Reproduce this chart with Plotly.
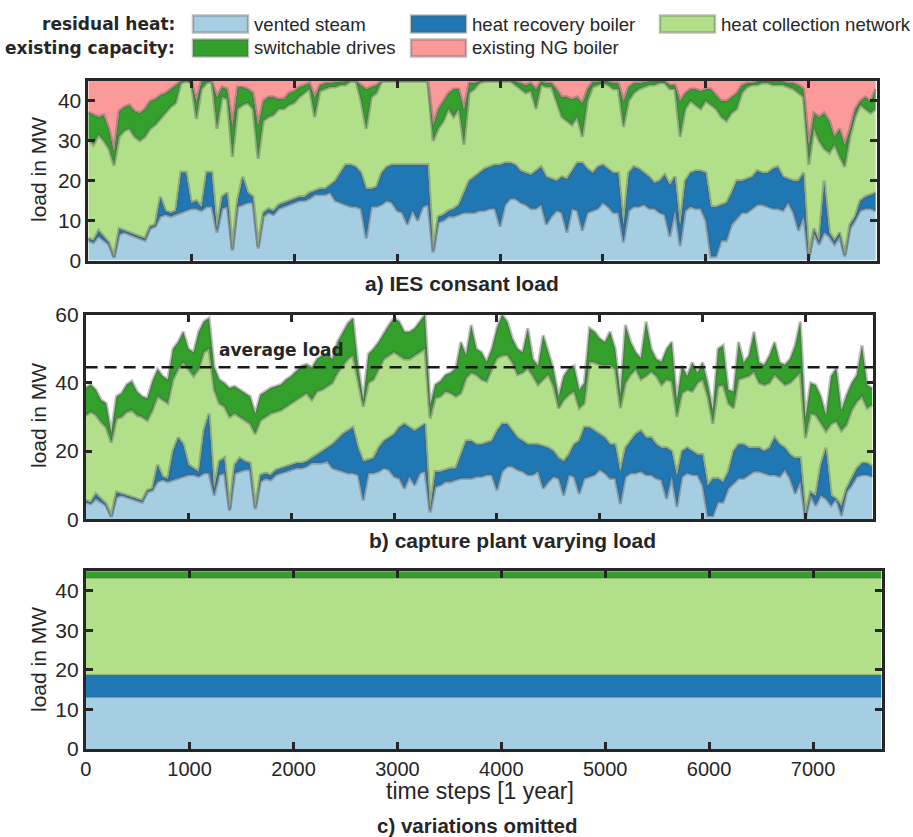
import plotly.graph_objects as go

W, H = 913, 837


def px(x):
    return x / W


def py(y):
    return 1 - y / H


# ---------------- data ----------------
time_step = list(range(0, 7651, 50))
x_end = 7660

# shared: vented steam (top of light-blue layer), MW
vented_steam = [
    5.0, 4.5, 6.0, 5.0, 4.0, 0.7, 6.5, 7.0, 6.5, 6.0,
    5.5, 5.0, 8.0, 8.5, 11.0, 11.5, 11.0, 11.5, 12.0, 12.5,
    13.0, 13.0, 12.5, 13.5, 13.5, 7.0, 13.0, 13.5, 2.5, 13.5,
    14.0, 14.5, 14.5, 3.0, 11.0, 12.0, 11.5, 13.0, 13.5, 14.0,
    14.5, 15.0, 15.0, 15.5, 16.5, 16.5, 16.5, 17.0, 15.0, 14.5,
    14.0, 13.5, 13.5, 13.0, 5.5, 13.5, 13.5, 14.0, 15.0, 14.5,
    12.5, 12.0, 9.0, 12.5, 10.0, 13.5, 14.0, 2.0, 9.5, 10.0,
    11.0, 11.0, 11.5, 12.0, 12.0, 12.0, 12.5, 12.5, 13.0, 13.0,
    8.5, 14.0, 15.5, 15.5, 14.5, 14.0, 13.0, 13.0, 14.0, 9.0,
    11.0, 12.5, 12.0, 7.0, 13.0, 12.5, 7.5, 12.0, 12.5, 13.0,
    14.5, 13.5, 12.0, 12.0, 4.5, 12.5, 13.5, 13.5, 14.0, 13.0,
    13.0, 12.0, 11.5, 6.0, 12.5, 3.6, 12.5, 13.5, 13.0, 13.0,
    10.0, 1.0, 1.0, 5.0, 5.0, 9.0, 10.5, 12.0, 12.0, 13.0,
    14.0, 14.0, 13.5, 13.0, 13.0, 12.5, 14.5, 12.0, 7.5, 11.0,
    0.5, 7.0, 4.0, 7.0, 6.0, 4.0, 6.0, 1.0, 8.0, 10.0,
    12.5, 13.0, 13.0, 12.5]

# panel a) IES constant load: cumulative tops of each layer (MW)
a_top_hrb = [
    5.6, 5.0, 7.5, 6.0, 4.5, 1.0, 8.0, 7.5, 7.0, 6.5,
    6.0, 5.5, 8.5, 9.0, 16.0, 12.5, 12.0, 12.5, 22.1, 22.1,
    14.5, 15.0, 13.5, 22.1, 22.1, 8.0, 16.0, 17.0, 3.0, 15.0,
    21.0, 17.0, 16.0, 3.5, 12.0, 13.0, 12.5, 14.0, 14.5, 15.0,
    15.5, 16.0, 16.0, 17.0, 17.5, 18.0, 18.0, 19.0, 20.0, 22.0,
    24.0, 24.0, 23.5, 22.0, 18.0, 18.0, 18.5, 22.0, 23.5, 24.0,
    24.0, 24.0, 24.0, 24.0, 24.0, 24.0, 24.0, 2.5, 11.0, 11.5,
    12.5, 13.0, 14.0, 17.0, 20.0, 21.0, 22.0, 23.0, 23.5, 24.0,
    24.0, 24.5, 24.5, 24.0, 22.5, 22.0, 21.5, 22.5, 23.5, 21.0,
    20.5, 20.0, 21.0, 20.5, 22.5, 24.5, 24.5, 23.0, 22.0, 23.5,
    24.0, 23.0, 22.0, 22.0, 9.0, 22.0, 23.5, 23.0, 22.0, 21.0,
    19.5, 20.0, 21.5, 19.0, 21.0, 9.0, 20.0, 22.0, 22.5, 22.5,
    22.0, 13.5, 13.5, 14.0, 14.5, 17.0, 20.0, 20.0, 20.5, 21.0,
    22.5, 22.0, 22.0, 23.0, 23.5, 21.0, 20.5, 20.0, 20.0, 22.0,
    0.8, 8.0, 5.0, 20.0, 7.0, 5.0, 7.0, 1.5, 9.0, 11.0,
    15.0, 16.0, 16.5, 17.0]
a_top_hcn = [
    30.5, 29.0, 31.5, 30.0, 28.0, 23.8, 31.0, 32.5, 33.0, 31.0,
    30.0, 31.0, 33.0, 34.0, 35.5, 37.0, 38.5, 39.5, 44.5, 45.0,
    44.5, 35.5, 43.0, 44.5, 45.0, 33.0, 41.0, 40.5, 26.0, 38.0,
    39.0, 39.5, 38.0, 25.5, 35.0, 36.0, 36.5, 38.0, 38.0, 39.0,
    39.5, 41.0, 42.0, 43.0, 36.0, 42.5, 43.0, 43.5, 43.5, 44.0,
    44.0, 45.0, 45.0, 40.0, 33.0, 41.0, 42.0, 45.0, 45.0, 45.0,
    45.0, 45.0, 45.0, 45.0, 45.0, 45.0, 45.0, 30.0, 33.0, 35.0,
    38.0, 36.0, 38.0, 29.0, 42.0, 43.0, 44.5, 45.0, 45.0, 45.0,
    45.0, 45.0, 45.0, 44.0, 43.0, 42.0, 42.5, 38.0, 44.0, 43.5,
    43.5, 40.0, 36.0, 35.0, 34.0, 36.0, 31.0, 40.0, 43.5, 44.0,
    44.5, 44.0, 43.0, 43.0, 33.5, 40.0, 42.0, 43.0, 43.5, 44.0,
    44.0, 44.5, 44.5, 43.0, 43.0, 31.0, 38.0, 40.0, 39.0, 38.0,
    40.0, 39.0, 38.0, 36.0, 35.0, 37.0, 38.0, 42.0, 43.5, 44.0,
    44.0, 44.5, 44.5, 44.0, 44.0, 44.0, 43.5, 43.0, 42.0, 41.0,
    24.0, 33.0, 30.0, 28.0, 27.0, 29.0, 26.0, 23.5, 31.0, 36.0,
    39.0, 38.0, 37.0, 38.0]
a_top_drives = [
    37.2, 36.5, 36.0, 36.5, 33.0, 27.5, 37.5, 38.5, 39.0, 37.5,
    37.0, 38.0, 40.0, 40.5, 41.5, 42.0, 43.0, 44.0, 45.0, 45.0,
    45.0, 40.0, 45.0, 45.0, 45.0, 41.0, 43.5, 43.0, 34.0, 43.5,
    43.5, 43.0, 42.0, 34.0, 40.0, 41.0, 41.0, 40.5, 40.5, 42.0,
    42.5, 43.5, 44.0, 44.5, 41.0, 44.0, 44.5, 44.5, 44.8, 45.0,
    45.0, 45.0, 45.0, 44.0, 43.0, 43.5, 44.0, 45.0, 45.0, 45.0,
    45.0, 45.0, 45.0, 45.0, 45.0, 45.0, 45.0, 34.0, 38.0, 40.0,
    42.0, 43.0, 43.0, 38.0, 44.5, 44.5, 45.0, 45.0, 45.0, 45.0,
    45.0, 45.0, 45.0, 45.0, 44.5, 44.0, 44.5, 43.0, 45.0, 44.5,
    44.5, 43.0, 41.0, 41.0, 40.5, 41.0, 39.5, 43.0, 44.8, 45.0,
    45.0, 45.0, 44.5, 44.5, 40.0, 43.5, 44.5, 44.5, 44.8, 45.0,
    45.0, 45.0, 45.0, 44.0, 44.0, 40.0, 42.0, 43.0, 43.0, 42.5,
    43.0, 43.0, 41.5, 40.0, 40.0, 41.0, 42.0, 44.0, 44.5, 44.5,
    45.0, 45.0, 45.0, 45.0, 45.0, 45.0, 44.5, 44.5, 44.0, 43.0,
    29.0, 37.0, 36.0, 37.0, 35.0, 31.0, 33.0, 29.0, 33.0, 38.0,
    40.0, 41.0, 40.0, 43.0]
ies_constant_load = 45.0

# panel b) capture plant varying load: cumulative tops (MW)
b_top_hrb = [
    5.6, 5.0, 7.5, 6.0, 4.5, 1.0, 8.0, 7.5, 7.0, 6.5,
    6.0, 5.5, 8.5, 9.0, 16.0, 12.5, 12.0, 20.0, 24.0, 22.0,
    16.0, 15.0, 14.0, 26.0, 31.0, 9.0, 17.0, 18.0, 3.0, 16.0,
    18.0, 17.0, 16.5, 3.5, 13.0, 13.5, 13.0, 14.5, 15.0, 15.5,
    16.0, 16.5, 16.5, 17.0, 18.0, 19.0, 20.0, 21.0, 22.0, 23.5,
    25.0, 26.0, 27.0, 21.0, 17.0, 17.5, 18.0, 21.0, 23.0, 24.0,
    25.0, 27.0, 28.0, 27.0, 26.0, 27.0, 28.0, 3.0, 14.0, 14.0,
    14.5, 15.0, 15.0, 19.0, 23.0, 23.0, 22.0, 22.0, 22.5, 23.0,
    26.0, 28.0, 28.0, 26.0, 24.0, 23.0, 22.0, 22.0, 22.0, 21.5,
    21.0, 20.0, 18.0, 17.0, 19.0, 22.0, 23.0, 27.0, 27.0, 26.0,
    25.0, 24.0, 22.0, 22.0, 14.0, 21.0, 23.0, 25.0, 26.0, 24.0,
    24.0, 22.0, 21.0, 21.0, 20.0, 13.0, 20.0, 21.0, 20.0, 19.0,
    19.0, 10.0, 12.0, 12.0, 11.0, 14.0, 20.0, 22.0, 22.0, 21.0,
    21.0, 21.0, 20.0, 21.0, 24.0, 22.0, 21.0, 19.0, 18.0, 18.0,
    1.5, 8.0, 7.0, 16.0, 21.0, 7.0, 6.0, 4.0, 9.0, 12.0,
    15.0, 16.5, 16.5, 15.5]
b_top_hcn = [
    30.5, 31.5, 30.6, 28.5, 27.0, 22.5, 29.5, 30.0, 31.5, 32.0,
    30.5, 30.0, 29.0, 32.0, 36.0, 35.0, 34.0, 41.0, 44.0, 46.0,
    44.0, 42.0, 44.0, 49.0, 50.0, 38.0, 34.0, 33.0, 30.0, 31.0,
    30.0, 29.0, 28.0, 25.0, 29.0, 30.0, 31.0, 31.5, 32.0, 33.0,
    34.0, 35.0, 36.0, 37.0, 35.0, 37.5, 38.0, 39.0, 40.0, 43.0,
    45.0, 47.0, 48.0, 40.0, 33.0, 40.0, 41.0, 44.0, 47.0, 48.0,
    49.0, 48.0, 47.0, 47.0, 48.0, 49.0, 50.0, 29.6, 35.5, 36.0,
    37.5, 37.0, 36.0, 37.0, 41.4, 43.0, 42.4, 41.0, 40.4, 44.0,
    47.2, 48.0, 48.2, 46.0, 42.4, 43.0, 44.3, 42.0, 39.4, 41.0,
    42.4, 39.0, 32.5, 35.0, 36.5, 37.5, 32.6, 34.0, 46.2, 46.0,
    45.3, 45.0, 45.3, 44.0, 32.6, 40.0, 42.4, 44.0, 41.0, 42.0,
    43.3, 42.0, 39.4, 41.0, 40.4, 30.0, 37.0, 38.0, 37.5, 40.0,
    41.0, 36.0, 28.0, 39.0, 39.4, 34.0, 32.6, 41.0, 41.4, 42.0,
    43.3, 40.0, 39.4, 40.0, 42.4, 41.0, 39.4, 40.0, 41.4, 43.0,
    23.8, 31.0, 30.6, 28.0, 25.8, 28.0, 28.7, 26.0, 27.7, 32.0,
    34.5, 36.0, 32.6, 33.6]
b_load = [
    38.5, 39.5, 38.0, 35.0, 34.0, 25.5, 36.0, 37.0, 39.5, 40.5,
    37.5, 36.0, 35.5, 40.5, 44.0, 42.0, 41.0, 50.0, 52.0, 55.0,
    50.0, 49.0, 55.0, 58.0, 59.0, 44.7, 41.0, 40.0, 38.5, 39.0,
    38.0, 37.0, 36.0, 31.0, 36.5, 37.5, 38.5, 39.0, 39.5, 41.0,
    42.0, 43.5, 45.0, 45.5, 44.5, 47.0, 48.0, 48.5, 47.0, 52.0,
    55.0, 57.5, 59.0, 45.0, 35.0, 48.5, 50.0, 52.0, 54.5, 57.0,
    59.0, 58.0, 55.0, 55.0, 56.0, 58.0, 60.0, 33.5, 39.5, 40.5,
    42.4, 43.0, 44.3, 52.0, 48.2, 57.0, 50.0, 49.0, 46.2, 50.0,
    56.0, 60.0, 58.0, 53.0, 50.0, 49.0, 56.0, 47.0, 45.0, 54.0,
    49.0, 44.0, 36.0, 42.0, 44.3, 45.0, 38.0, 40.0, 56.0, 55.0,
    53.0, 52.0, 55.0, 50.0, 36.5, 57.0, 52.0, 49.0, 47.2, 58.0,
    50.0, 47.0, 46.2, 50.0, 52.0, 35.0, 45.0, 42.0, 46.0, 43.0,
    46.0, 40.0, 32.0, 50.0, 51.0, 38.0, 37.5, 52.0, 46.0, 48.0,
    55.0, 46.0, 45.3, 48.0, 52.0, 46.0, 45.3, 47.0, 51.0, 58.0,
    29.6, 40.0, 39.4, 36.0, 30.6, 42.0, 44.3, 32.0, 36.5, 40.0,
    42.4, 51.0, 39.4, 38.4]
b_average_load = 44.6

# panel c) variations omitted: constant layer sizes (MW)
c_vented = 13.1
c_hrb = 5.6
c_hcn = 24.6
c_drives = 1.7

# ---------------- style ----------------
COL = dict(vented='#a6cee3', hrb='#1f78b4', hcn='#b2df8a',
           drives='#33a02c', ng='#fb9a99')
EDGE = 'rgba(90,90,90,0.38)'
AX = '#262626'
FONT = 'Liberation Sans, Arial, sans-serif'
BOLD2 = 'DejaVu Sans, sans-serif'

fig = go.Figure()


def band(x, y, color, ax, first=False, lw=3.2, edge=EDGE):
    xa, ya = ('x', 'y') if ax == 1 else ('x%d' % ax, 'y%d' % ax)
    fig.add_trace(go.Scatter(
        x=x, y=y, mode='lines', line=dict(color=edge, width=lw),
        fill='tozeroy' if first else 'tonexty', fillcolor=color,
        xaxis=xa, yaxis=ya, showlegend=False, hoverinfo='skip'))


# panel a
band(time_step, vented_steam, COL['vented'], 1, first=True)
band(time_step, a_top_hrb, COL['hrb'], 1)
band(time_step, a_top_hcn, COL['hcn'], 1)
band(time_step, a_top_drives, COL['drives'], 1)
band(time_step, [ies_constant_load] * len(time_step), COL['ng'], 1,
     lw=0.1, edge='rgba(0,0,0,0)')

# panel b
band(time_step, vented_steam, COL['vented'], 2, first=True)
band(time_step, b_top_hrb, COL['hrb'], 2)
band(time_step, b_top_hcn, COL['hcn'], 2)
band(time_step, b_load, COL['drives'], 2)
fig.add_trace(go.Scatter(x=[0, x_end], y=[b_average_load] * 2, mode='lines',
                         line=dict(color='#1a1a1a', width=2.6, dash='12px,7px'),
                         xaxis='x2', yaxis='y2', showlegend=False,
                         hoverinfo='skip'))

# panel c
cx = [0, x_end]
c_tops = [c_vented, c_vented + c_hrb, c_vented + c_hrb + c_hcn,
          c_vented + c_hrb + c_hcn + c_drives]
band(cx, [c_tops[0]] * 2, COL['vented'], 3, first=True, lw=1.5)
band(cx, [c_tops[1]] * 2, COL['hrb'], 3, lw=1.5)
band(cx, [c_tops[2]] * 2, COL['hcn'], 3, lw=1.5)
band(cx, [c_tops[3]] * 2, COL['drives'], 3, lw=1.5)


# ---------------- axes ----------------
def xax(d0, d1, anchor, labels):
    return dict(domain=[px(d0), px(d1)], anchor=anchor, range=[0, x_end],
                tickvals=list(range(0, 7001, 1000)), showticklabels=labels,
                showline=True, linecolor=AX, linewidth=2.6, mirror='ticks',
                ticks='inside', ticklen=7, tickwidth=2.6, tickcolor=AX,
                showgrid=False, zeroline=False, automargin=False,
                tickfont=dict(family=FONT, size=20, color=AX))


def yax(top, bottom, anchor, rng, ticks):
    return dict(domain=[py(bottom), py(top)], anchor=anchor, range=rng,
                tickvals=ticks, showline=True, linecolor=AX, linewidth=2.6,
                mirror='ticks', ticks='inside', ticklen=7, tickwidth=2.6,
                tickcolor=AX, showgrid=False, zeroline=False, automargin=False,
                tickfont=dict(family=FONT, size=21, color=AX))


layout = dict(
    width=W, height=H, margin=dict(l=0, r=0, t=0, b=0, pad=0,
                                   autoexpand=False),
    paper_bgcolor='white', plot_bgcolor='white', showlegend=False,
    xaxis=xax(88.3, 876.7, 'y', False),
    yaxis=yax(81.0, 260.5, 'x', [0, 45], [0, 10, 20, 30, 40]),
    xaxis2=xax(85.6, 873.3, 'y2', False),
    yaxis2=yax(314.7, 519.3, 'x2', [0, 60], [0, 20, 40, 60]),
    xaxis3=xax(85.7, 881.6, 'y3', True),
    yaxis3=yax(571.2, 749.0, 'x3', [0, 45], [0, 10, 20, 30, 40]),
)
fig.update_layout(**layout)

ann = []


def text(x, y, s, size, family=FONT, bold=False, xanchor='center', angle=0):
    ann.append(dict(x=px(x), y=py(y), xref='paper', yref='paper',
                    text='<b>%s</b>' % s if bold else s, showarrow=False,
                    xanchor=xanchor, yanchor='middle', textangle=angle,
                    font=dict(family=family, size=size, color=AX)))


# legend
text(177, 24, 'residual heat:', 17, BOLD2, True, 'right')
text(177, 48, 'existing capacity:', 17, BOLD2, True, 'right')
legend_items = [
    (193, 24, COL['vented'], 'vented steam'),
    (411, 24, COL['hrb'], 'heat recovery boiler'),
    (660, 24, COL['hcn'], 'heat collection network'),
    (193, 48, COL['drives'], 'switchable drives'),
    (411, 48, COL['ng'], 'existing NG boiler'),
]
shapes = []
for lx, ly, c, lab in legend_items:
    shapes.append(dict(type='rect', xref='paper', yref='paper',
                       x0=px(lx), x1=px(lx + 55), y0=py(ly + 8.5),
                       y1=py(ly - 8.5), fillcolor=c,
                       line=dict(color=EDGE, width=2.5)))
    text(lx + 59, ly, lab, 18.6, FONT, False, 'left')

# titles and labels
text(462, 283, 'a) IES consant load', 21, FONT, True)
text(512, 540, 'b) capture plant varying load', 21, FONT, True)
text(478, 825, 'c) variations omitted', 20.5, FONT, True)
text(480, 791, 'time steps [1 year]', 23)
text(281, 350, 'average load', 17, BOLD2, True)
for yc in (170, 416, 660):
    text(38, yc, 'load in MW', 21, angle=-90)

fig.update_layout(annotations=ann, shapes=shapes)
fig.write_html('out.html', config={'displayModeBar': False},
               post_script="document.body.style.margin='0';"
                           "document.body.style.padding='0';")
